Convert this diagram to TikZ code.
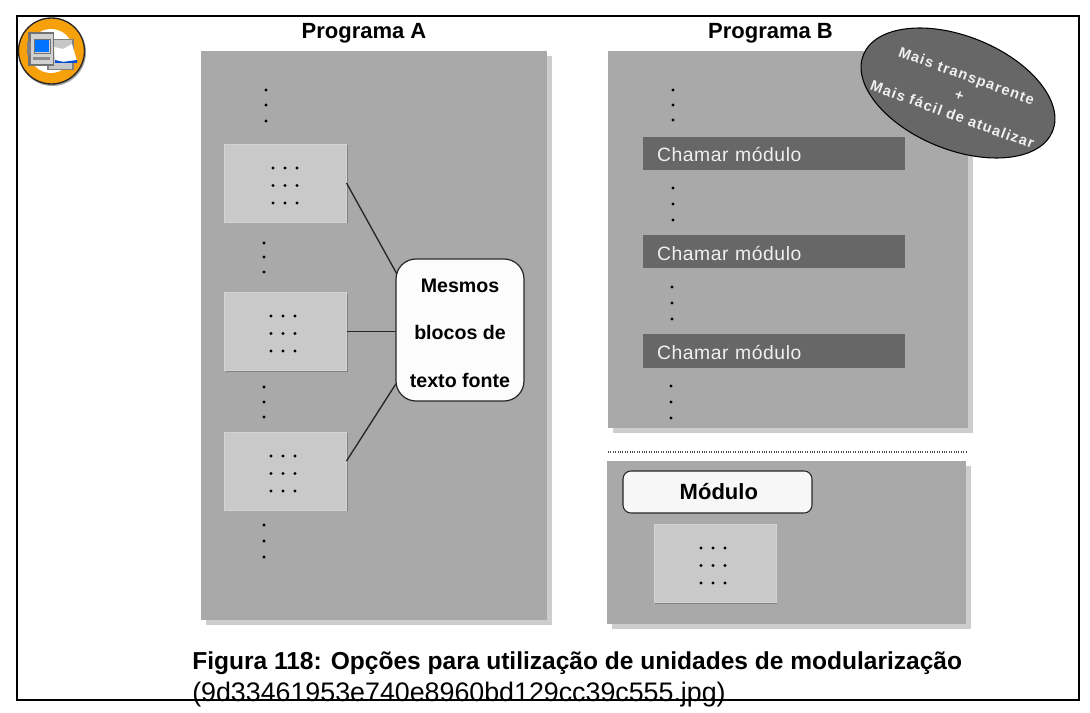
\documentclass[tikz,border=0pt]{standalone}
\usepackage{fontspec}
\setmainfont{Liberation Sans}
\usetikzlibrary{shadows}
\newcommand{\pxu}{0.75pt}
\definecolor{painel}{HTML}{A9A9A9}
\definecolor{sombra}{HTML}{CDCDCD}
\definecolor{bloco}{HTML}{C9C9C9}
\definecolor{chamada}{HTML}{676767}
\definecolor{laranja}{HTML}{F6A00C}
\tikzset{
	painelbox/.style n args={2}{anchor=north west, inner sep=0pt, outer sep=0pt, fill=painel,
		minimum width=#1*\pxu, minimum height=#2*\pxu,
		drop shadow={shadow xshift=3.75pt, shadow yshift=-3.75pt, fill=sombra, opacity=1}},
	blocobox/.style={anchor=north west, inner sep=0pt, outer sep=0pt, fill=bloco, draw=bloco!80!white, line width=0.5pt,
		minimum width=122*\pxu, minimum height=78*\pxu,
		drop shadow={shadow xshift=1pt, shadow yshift=-1pt, fill=black!50, opacity=1}},
	chamadabox/.style={anchor=north west, inner ysep=0pt, inner xsep=10.5pt, outer sep=0pt, fill=chamada, text=black!6,
		minimum height=33*\pxu, text width=175.5pt, align=left, text height=12.5pt,
		font=\fontsize{14.5}{15}\selectfont\addfontfeature{LetterSpace=3}},
	titulo/.style={font=\bfseries\fontsize{16.5}{18}\selectfont, anchor=base},
	linha/.style={line width=1pt, draw=black!85}
}
\newcommand{\pontosV}[2]{\foreach \y in {#2} {\fill (#1,\y) circle (1.2pt);}}
\newcommand{\pontosG}[2]{\foreach \x in {0,12,24} {\foreach \y in {0,17.5,35} {\fill ({#1+\x},{#2+\y}) circle (1.15pt);}}}
\begin{document}
\begin{tikzpicture}[x=0.75pt, y=-0.75pt]
	\useasboundingbox (0,0) rectangle (1090,713);
	% moldura
	\draw[black, line width=1.1pt] (17,16) rectangle (1079,700);
	% titulos
	\node[titulo] (tituloA) at (364,39) {Programa A};
	\node[titulo] (tituloB) at (770.5,39) {Programa B};
	% paineis
	\node[painelbox={346}{569}] (painelA) at (201,51) {};
	\node[painelbox={360}{377}] (painelB) at (608,51) {};
	\node[painelbox={359}{163}] (painelM) at (607,461) {};
	\draw[black!70, line width=0.8pt, densely dotted] (608,452) -- (966,452);
	% blocos do programa A
	\node[blocobox] (blocoA1) at (224.5,144) {};
	\node[blocobox] (blocoA2) at (224.5,292.5) {};
	\node[blocobox] (blocoA3) at (224.5,432) {};
	\node[blocobox] (blocoM) at (654,524.5) {};
	\pontosG{273}{168}
	\pontosG{271}{316}
	\pontosG{271}{456}
	\pontosG{701}{548}
	\pontosV{266}{90,105,121}
	\pontosV{264}{243,257,272}
	\pontosV{264}{387,402,417}
	\pontosV{264}{525,541,557}
	% texto comum
	\node[anchor=north west, inner sep=0pt, outer sep=0pt, draw=black!85, line width=0.9pt, fill=black!1,
		rounded corners=15pt, minimum width=128*\pxu, minimum height=142*\pxu, align=center,
		font=\bfseries\fontsize{14.7}{35.5}\selectfont] (mesmos) at (396,259) {\rule{0pt}{15pt}Mesmos\\blocos de\\texto fonte};
	\draw[linha, shorten >=-1.5pt] (blocoA1.east) -- (mesmos.138);
	\draw[linha] (blocoA2.east) -- (mesmos.west |- blocoA2.east);
	\draw[linha] ([yshift=7.5pt]blocoA3.east) -- (mesmos.220);
	% programa B
	\node[chamadabox] (chamada1) at (643,137) {Chamar módulo};
	\node[chamadabox] (chamada2) at (643,235.5) {Chamar módulo};
	\node[chamadabox] (chamada3) at (643,334.5) {Chamar módulo};
	\pontosV{673}{90,105,120}
	\pontosV{673}{188,204,220}
	\pontosV{672}{287,303,319}
	\pontosV{671}{386,402,418}
	\node[anchor=north west, inner sep=0pt, outer sep=0pt, draw=black!85, line width=0.8pt, fill=black!3,
		rounded corners=6pt, minimum width=189*\pxu, minimum height=42*\pxu,
		font=\bfseries\fontsize{16.5}{18}\selectfont] (modulo) at (623,471) {\hspace{2pt}Módulo};
	% elipse
	\fill[chamada, draw=black, line width=0.8pt, rotate around={-22:(958,93)}] (958,93) ellipse (102 and 56.7);
	\node[rotate=-20, align=center, text=black!6, inner sep=0pt,
		font=\bfseries\fontsize{11}{15.5}\selectfont\addfontfeature{LetterSpace=8}] (vantagens) at (959.5,95)
		{Mais transparente\\+\\Mais fácil de atualizar};
	% icone
	\fill[black!35] (52.5,52.5) circle (33.5);
	\draw[fill=laranja, draw=black!85, line width=1pt] (51.5,51) circle (33);
	\fill[white] (51,51) circle (22);
	\fill[black!50] (47,39) rectangle (73.5,70.5);
	\fill[black!22] (49,40) rectangle (72,69);
	\fill[white] (54,47) -- (63,49) -- (72,44) -- (77,61) -- (55,62) -- cycle;
	\fill[blue!65!cyan!85!black] (55,60) -- (63,62) -- (77,60) -- (77,63) -- (55,63) -- cycle;
	\fill[black!55] (28,32) rectangle (54,66);
	\fill[black!18] (31,34) rectangle (52.5,64.5);
	\fill[black!50] (27,42) rectangle (31,55);
	\fill[blue!55!cyan] (35,40) rectangle (49,52);
	\draw[black!55, line width=0.6pt] (34,39) rectangle (50,53);
	\fill[black!45] (33,57) rectangle (50,60);
	% legenda
	\node[anchor=base west, inner sep=0pt, font=\bfseries\fontsize{18.4}{20}\selectfont] (legenda) at (192,669)
		{Figura 118: Opções para utilização de unidades de modularização};
	\node[anchor=base west, inner sep=0pt, font=\fontsize{20.1}{22}\selectfont] (arquivo) at (192,701)
		{(9d33461953e740e8960bd129cc39c555.jpg)};
\end{tikzpicture}
\end{document}
